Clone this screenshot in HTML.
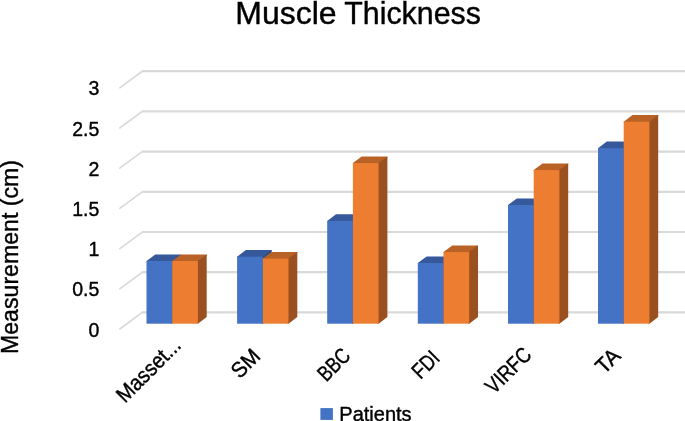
<!DOCTYPE html>
<html><head><meta charset="utf-8"><title>Muscle Thickness</title>
<style>html,body{margin:0;padding:0;background:#fff}svg{display:block}</style></head>
<body>
<svg width="685" height="421" viewBox="0 0 685 421">
<rect width="685" height="421" fill="#fff"/>
<g fill="none" stroke="#D9D9D9" stroke-linecap="round">
<line x1="119.8" y1="87.8" x2="142.6" y2="71.0" stroke-width="1.6"/>
<line x1="142.2" y1="71.2" x2="690" y2="71.2" stroke-width="2.2" stroke-linecap="butt"/>
<line x1="119.8" y1="128.0" x2="142.6" y2="111.2" stroke-width="1.6"/>
<line x1="142.2" y1="111.4" x2="690" y2="111.4" stroke-width="2.2" stroke-linecap="butt"/>
<line x1="119.8" y1="168.2" x2="142.6" y2="151.4" stroke-width="1.6"/>
<line x1="142.2" y1="151.6" x2="690" y2="151.6" stroke-width="2.2" stroke-linecap="butt"/>
<line x1="119.8" y1="208.4" x2="142.6" y2="191.6" stroke-width="1.6"/>
<line x1="142.2" y1="191.8" x2="690" y2="191.8" stroke-width="2.2" stroke-linecap="butt"/>
<line x1="119.8" y1="248.6" x2="142.6" y2="231.8" stroke-width="1.6"/>
<line x1="142.2" y1="232.0" x2="690" y2="232.0" stroke-width="2.2" stroke-linecap="butt"/>
<line x1="119.8" y1="288.8" x2="142.6" y2="272.0" stroke-width="1.6"/>
<line x1="142.2" y1="272.2" x2="690" y2="272.2" stroke-width="2.2" stroke-linecap="butt"/>
<line x1="119.8" y1="329.0" x2="142.6" y2="312.2" stroke-width="1.6"/>
<line x1="142.2" y1="312.4" x2="690" y2="312.4" stroke-width="2.2" stroke-linecap="butt"/>
</g>
<polygon points="146.5,261.6 146.5,261.0 155.3,254.4 181.0,254.4 181.0,255.4 172.2,262.0" fill="#35599A"/>
<polygon points="172.2,261.0 181.0,254.4 181.0,317.1 172.2,323.7 171.2,323.7 171.2,261.7" fill="#2C4A80"/>
<rect x="146.5" y="261.0" width="25.70" height="62.7" fill="#4472C4"/>
<polygon points="172.2,261.6 172.2,261.0 181.0,254.4 206.7,254.4 206.7,255.4 197.9,262.0" fill="#B96226"/>
<polygon points="197.9,261.0 206.7,254.4 206.7,317.1 197.9,323.7 196.9,323.7 196.9,261.7" fill="#9A511F"/>
<rect x="172.2" y="261.0" width="25.70" height="62.7" fill="#ED7D31"/>
<polygon points="237.1,257.3 237.1,256.7 245.9,250.1 271.6,250.1 271.6,251.1 262.8,257.7" fill="#35599A"/>
<polygon points="262.8,256.7 271.6,250.1 271.6,317.1 262.8,323.7 261.8,323.7 261.8,257.4" fill="#2C4A80"/>
<rect x="237.1" y="256.7" width="25.70" height="67.0" fill="#4472C4"/>
<polygon points="262.8,259.2 262.8,258.6 271.6,252.0 297.3,252.0 297.3,253.0 288.5,259.6" fill="#B96226"/>
<polygon points="288.5,258.6 297.3,252.0 297.3,317.1 288.5,323.7 287.5,323.7 287.5,259.3" fill="#9A511F"/>
<rect x="262.8" y="258.6" width="25.70" height="65.1" fill="#ED7D31"/>
<polygon points="327.2,221.5 327.2,220.9 336.0,214.3 361.7,214.3 361.7,215.3 352.9,221.9" fill="#35599A"/>
<polygon points="352.9,220.9 361.7,214.3 361.7,317.1 352.9,323.7 351.9,323.7 351.9,221.6" fill="#2C4A80"/>
<rect x="327.2" y="220.9" width="25.70" height="102.8" fill="#4472C4"/>
<polygon points="352.9,163.7 352.9,163.1 361.7,156.5 387.4,156.5 387.4,157.5 378.6,164.1" fill="#B96226"/>
<polygon points="378.6,163.1 387.4,156.5 387.4,317.1 378.6,323.7 377.6,323.7 377.6,163.8" fill="#9A511F"/>
<rect x="352.9" y="163.1" width="25.70" height="160.6" fill="#ED7D31"/>
<polygon points="417.8,263.7 417.8,263.1 426.6,256.5 452.3,256.5 452.3,257.5 443.5,264.1" fill="#35599A"/>
<polygon points="443.5,263.1 452.3,256.5 452.3,317.1 443.5,323.7 442.5,323.7 442.5,263.8" fill="#2C4A80"/>
<rect x="417.8" y="263.1" width="25.70" height="60.6" fill="#4472C4"/>
<polygon points="443.5,252.7 443.5,252.1 452.3,245.5 478.0,245.5 478.0,246.5 469.2,253.1" fill="#B96226"/>
<polygon points="469.2,252.1 478.0,245.5 478.0,317.1 469.2,323.7 468.2,323.7 468.2,252.8" fill="#9A511F"/>
<rect x="443.5" y="252.1" width="25.70" height="71.6" fill="#ED7D31"/>
<polygon points="508.0,205.6 508.0,205.0 516.8,198.4 542.5,198.4 542.5,199.4 533.7,206.0" fill="#35599A"/>
<polygon points="533.7,205.0 542.5,198.4 542.5,317.1 533.7,323.7 532.7,323.7 532.7,205.7" fill="#2C4A80"/>
<rect x="508.0" y="205.0" width="25.70" height="118.7" fill="#4472C4"/>
<polygon points="533.7,170.7 533.7,170.1 542.5,163.5 568.2,163.5 568.2,164.5 559.4,171.1" fill="#B96226"/>
<polygon points="559.4,170.1 568.2,163.5 568.2,317.1 559.4,323.7 558.4,323.7 558.4,170.8" fill="#9A511F"/>
<rect x="533.7" y="170.1" width="25.70" height="153.6" fill="#ED7D31"/>
<polygon points="598.0,148.8 598.0,148.2 606.8,141.6 632.5,141.6 632.5,142.6 623.7,149.2" fill="#35599A"/>
<polygon points="623.7,148.2 632.5,141.6 632.5,317.1 623.7,323.7 622.7,323.7 622.7,148.9" fill="#2C4A80"/>
<rect x="598.0" y="148.2" width="25.70" height="175.5" fill="#4472C4"/>
<polygon points="623.7,122.3 623.7,121.7 632.5,115.1 658.2,115.1 658.2,116.1 649.4,122.7" fill="#B96226"/>
<polygon points="649.4,121.7 658.2,115.1 658.2,317.1 649.4,323.7 648.4,323.7 648.4,122.4" fill="#9A511F"/>
<rect x="623.7" y="121.7" width="25.70" height="202.0" fill="#ED7D31"/>
<g font-family="'Liberation Sans', sans-serif" fill="#000" stroke="#000" stroke-width="0.4">
<text y="23.7" font-size="31.2"><tspan x="235.3" textLength="101.3" lengthAdjust="spacingAndGlyphs">Muscle</tspan> <tspan x="344.3" textLength="136.6" lengthAdjust="spacingAndGlyphs">Thickness</tspan></text>
<text transform="translate(99.3,95.3) scale(0.935,1)" font-size="20.9" text-anchor="end">3</text>
<text transform="translate(99.3,135.5) scale(0.935,1)" font-size="20.9" text-anchor="end">2.5</text>
<text transform="translate(99.3,175.7) scale(0.935,1)" font-size="20.9" text-anchor="end">2</text>
<text transform="translate(99.3,215.9) scale(0.935,1)" font-size="20.9" text-anchor="end">1.5</text>
<text transform="translate(99.3,256.1) scale(0.935,1)" font-size="20.9" text-anchor="end">1</text>
<text transform="translate(99.3,296.3) scale(0.935,1)" font-size="20.9" text-anchor="end">0.5</text>
<text transform="translate(99.3,336.5) scale(0.935,1)" font-size="20.9" text-anchor="end">0</text>
<text transform="translate(17.5,354) rotate(-90)" font-size="23.5" textLength="194" lengthAdjust="spacingAndGlyphs">Measurement (cm)</text>
<text transform="translate(125,403.8) rotate(-45)" font-size="21.8" textLength="81" lengthAdjust="spacingAndGlyphs">Masset...</text>
<text transform="translate(239.8,379.4) rotate(-45)" font-size="21.8" textLength="31" lengthAdjust="spacingAndGlyphs">SM</text>
<text transform="translate(326.2,382.5) rotate(-45)" font-size="21.8" textLength="36" lengthAdjust="spacingAndGlyphs">BBC</text>
<text transform="translate(420.6,380) rotate(-45)" font-size="21.8" textLength="29" lengthAdjust="spacingAndGlyphs">FDI</text>
<text transform="translate(494,395) rotate(-45)" font-size="21.8" textLength="55" lengthAdjust="spacingAndGlyphs">VIRFC</text>
<text transform="translate(604.2,375) rotate(-45)" font-size="21.8" textLength="25" lengthAdjust="spacingAndGlyphs">TA</text>
<text x="339.3" y="420.5" font-size="20">Patients</text>
</g>
<rect x="320.4" y="408.1" width="12.5" height="11.8" fill="#4472C4"/>
</svg>
</body></html>
